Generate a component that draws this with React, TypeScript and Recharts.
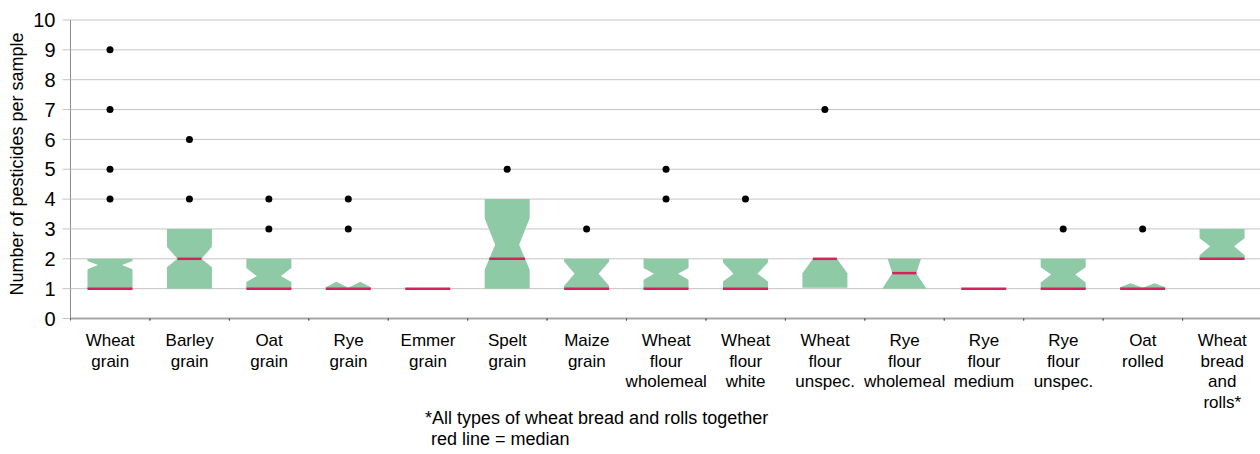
import React from 'react';
import { ComposedChart, Bar, XAxis, YAxis, CartesianGrid } from 'recharts';

const CATEGORIES = [
  'Wheat\ngrain', 'Barley\ngrain', 'Oat\ngrain', 'Rye\ngrain', 'Emmer\ngrain', 'Spelt\ngrain', 'Maize\ngrain',
  'Wheat\nflour\nwholemeal', 'Wheat\nflour\nwhite', 'Wheat\nflour\nunspec.', 'Rye\nflour\nwholemeal',
  'Rye\nflour\nmedium', 'Rye\nflour\nunspec.', 'Oat\nrolled', 'Wheat\nbread\nand\nrolls*',
];
const Q1 = [1, 1, 1, 1, 1, 1, 1, 1, 1, 1.03, 1, 1, 1, 1, 2];
const Q3 = [2, 3, 2, 1.03, 1, 4, 2, 2, 2, 2, 2, 1, 2, 1.03, 3];
const MEDIAN = [1, 2, 1, 1, 1, 2, 1, 1, 1, 2, 1.52, 1, 1, 1, 2];
const NOTCH_LO = [1.65, 1.72, 1.22, 1.05, 1, 1.63, 1.1, 1.3, 1.24, 1.52, 0.98, 1, 1.21, 1.05, 2.12];
const NOTCH_MID = [1.79, 2, 1.42, 1.23, 1, 2.47, 1.5, 1.5, 1.5, 2, 1.52, 1, 1.47, 1.18, 2.42];
const NOTCH_HI = [1.93, 2.4, 1.69, 1.4, 1, 3.36, 1.91, 1.69, 1.88, 2.48, 2.6, 1, 1.72, 1.35, 2.69];
const OUTLIERS: number[][] = [
  [4, 5, 7, 9], [4, 6], [3, 4], [3, 4], [], [5], [3], [4, 5], [4], [7], [], [], [3], [3], [],
];
const Y_TICKS = [0, 1, 2, 3, 4, 5, 6, 7, 8, 9, 10];
const Y_MIN = 0;
const Y_MAX = 10;
const Y_TITLE = 'Number of pesticides per sample';
const FOOTNOTE_1 = '*All types of wheat bread and rolls together';
const FOOTNOTE_2 = 'red line = median';

const data = CATEGORIES.map((name, i) => ({
  name,
  q1: Q1[i],
  q3: Q3[i],
  median: MEDIAN[i],
  nLo: NOTCH_LO[i],
  nMid: NOTCH_MID[i],
  nHi: NOTCH_HI[i],
  outliers: OUTLIERS[i],
  range: [Y_MIN, Y_MAX],
}));

const FONT = '"Liberation Sans", Arial, sans-serif';
const BOX_FILL = '#8fcaa6';
const MEDIAN_COLOR = '#d4235a';
const NOTCH_DEPTH = 10.5;

const BoxShape = (props: any) => {
  const { x, y, width, height, payload } = props;
  if (!payload) return null;
  const py = (v: number) => y + (height * (Y_MAX - v)) / (Y_MAX - Y_MIN);
  const L = x;
  const R = x + width;
  const C = x + width / 2;
  const d = NOTCH_DEPTH;
  const { q1, q3, median, nLo, nMid, nHi, outliers } = payload;
  const inset = (v: number) => {
    if (v >= nLo && v <= nMid && nMid > nLo) return (d * (v - nLo)) / (nMid - nLo);
    if (v > nMid && v <= nHi && nHi > nMid) return (d * (nHi - v)) / (nHi - nMid);
    return 0;
  };
  const hump = nMid > q3;
  let pts: number[][] = [];
  if (q3 > q1) {
    if (hump) {
      pts = [
        [L, py(q1)], [L, py(nLo)], [L + d, py(nMid)], [C, py(q3)],
        [R - d, py(nMid)], [R, py(nLo)], [R, py(q1)],
      ];
    } else {
      const levels = Array.from(new Set([q1, q3, nLo, nMid, nHi].filter((v) => v >= q1 && v <= q3))).sort(
        (a, b) => a - b,
      );
      const left = levels.map((v) => [L + inset(v), py(v)]);
      const right = [...levels].reverse().map((v) => [R - inset(v), py(v)]);
      pts = [...left, ...right];
    }
  }
  const mi = hump || q3 <= q1 ? 0 : inset(median);
  return (
    <g>
      {pts.length > 0 && (
        <polygon points={pts.map((p) => p.join(',')).join(' ')} fill={BOX_FILL} stroke="none" />
      )}
      <line x1={L + mi} x2={R - mi} y1={py(median)} y2={py(median)} stroke={MEDIAN_COLOR} strokeWidth={2.5} />
      {outliers.map((v: number, k: number) => (
        <circle key={k} cx={C} cy={py(v)} r={3.5} fill="#000" />
      ))}
    </g>
  );
};

const XTick = (props: any) => {
  const { x, y, payload } = props;
  const lines = String(payload.value).split('\n');
  const off = payload.offset || 0;
  return (
    <g>
      <line x1={x - off} x2={x - off} y1={y} y2={y + 2} stroke="#555" strokeWidth={1} />
      <line x1={x + off} x2={x + off} y1={y} y2={y + 2} stroke="#555" strokeWidth={1} />
      <text x={x} y={y + 27.5} textAnchor="middle" fontFamily={FONT} fontSize={17} fill="#000">
        {lines.map((ln, k) => (
          <tspan key={k} x={x} dy={k === 0 ? 0 : 20.5}>
            {ln}
          </tspan>
        ))}
      </text>
    </g>
  );
};

export default function App() {
  return (
    <div
      style={{
        position: 'absolute',
        left: 0,
        top: 0,
        width: 1260,
        height: 454,
        overflow: 'hidden',
        background: '#fff',
      }}
    >
      <ComposedChart
        width={1270}
        height={454}
        data={data}
        margin={{ top: 20, right: 8, left: 0, bottom: 0 }}
      >
        <CartesianGrid horizontal vertical={false} stroke="#c4c4c4" strokeWidth={1} />
        <XAxis
          dataKey="name"
          interval={0}
          height={135.5}
          tickLine={false}
          tickSize={0}
          tickMargin={0}
          axisLine={{ stroke: '#a6a6a6', strokeWidth: 2 }}
          tick={<XTick />}
        />
        <YAxis
          type="number"
          domain={[Y_MIN, Y_MAX]}
          ticks={Y_TICKS}
          interval={0}
          width={70.5}
          tickSize={8}
          tickMargin={7}
          tickLine={{ stroke: '#c4c4c4' }}
          axisLine={{ stroke: '#8c8c8c' }}
          tick={{ fontSize: 20, fill: '#000', fontFamily: FONT }}
        />
        <Bar dataKey="range" barSize={45} shape={<BoxShape />} isAnimationActive={false} />
      </ComposedChart>
      <svg
        width={1260}
        height={454}
        style={{ position: 'absolute', left: 0, top: 0, pointerEvents: 'none' }}
      >
        <text
          transform="translate(17,164) rotate(-90)"
          textAnchor="middle"
          dominantBaseline="central"
          fontFamily={FONT}
          fontSize={18}
          fill="#000"
        >
          {Y_TITLE}
        </text>
        <text x={425} y={424} fontFamily={FONT} fontSize={18} fill="#000">
          {FOOTNOTE_1}
        </text>
        <text x={431} y={445} fontFamily={FONT} fontSize={18} fill="#000">
          {FOOTNOTE_2}
        </text>
      </svg>
    </div>
  );
}
